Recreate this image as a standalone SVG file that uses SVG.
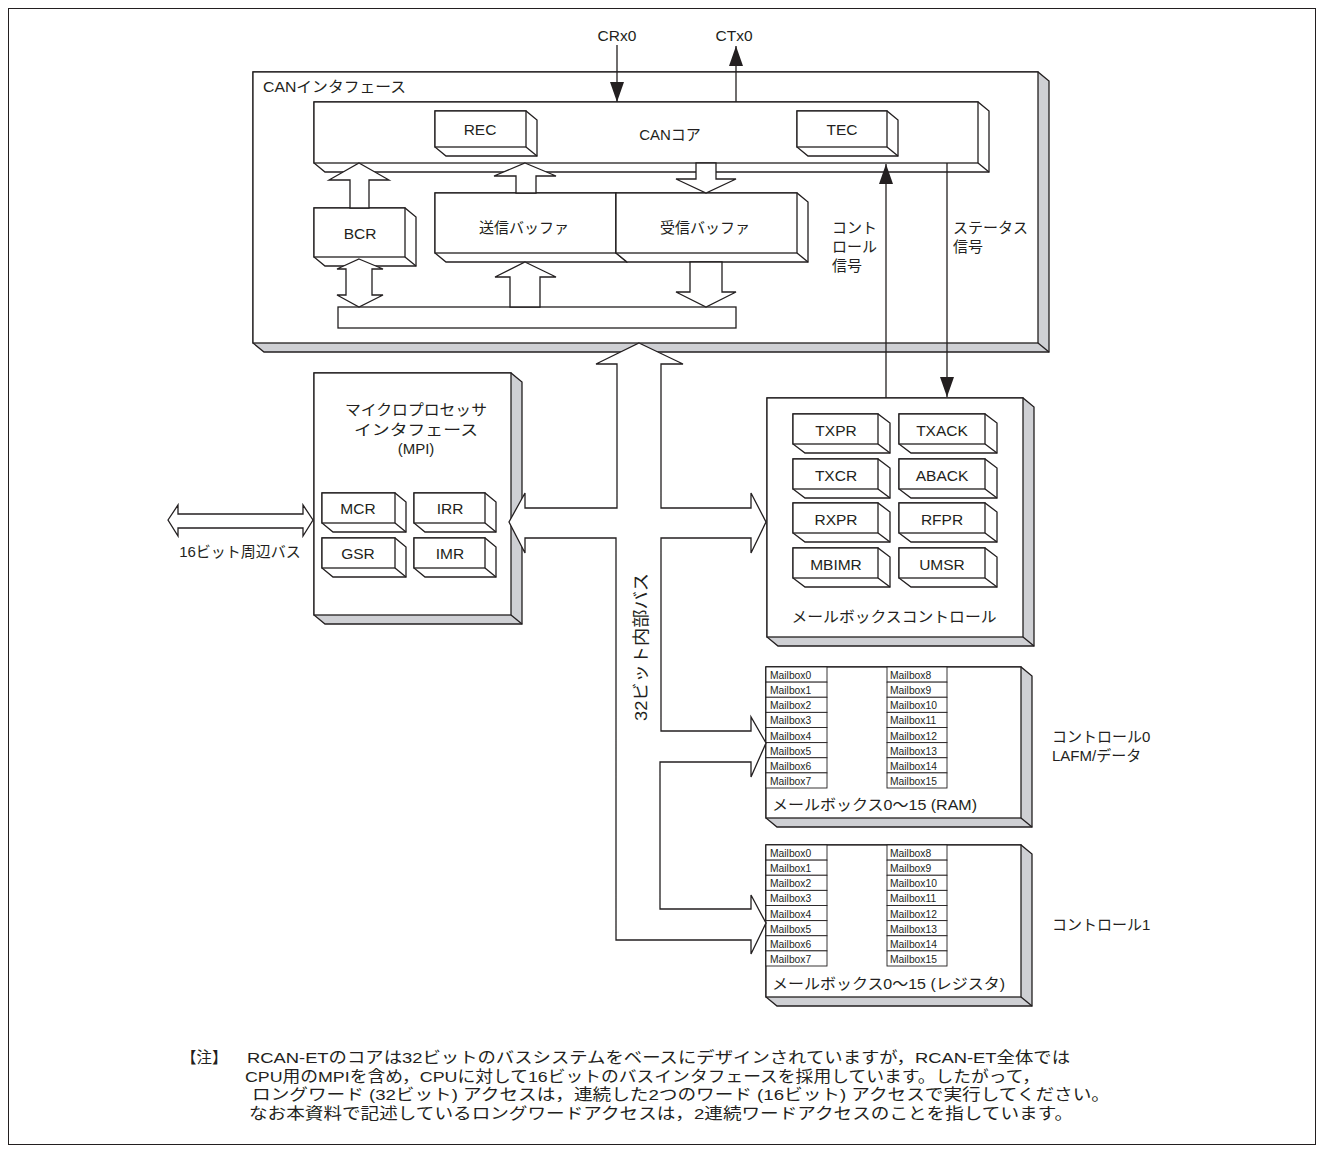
<svg xmlns="http://www.w3.org/2000/svg" xmlns:xlink="http://www.w3.org/1999/xlink" width="1324" height="1153" viewBox="0 0 1324 1153">
<style>
.o{stroke:#231f20;stroke-width:1.3;fill:none;stroke-linejoin:miter}
.w{fill:#fff;stroke:#231f20;stroke-width:1.3}
.g{fill:#cfd0d4;stroke:#231f20;stroke-width:1.3}
.c{fill:#fff;stroke:#231f20;stroke-width:0.9}
.ln{stroke:#231f20;stroke-width:1.3;fill:none}
text{font-family:"Liberation Sans","Noto Sans CJK JP",sans-serif;fill:#231f20;font-size:15px}
.m{text-anchor:middle}
.r{font-size:15.5px}
.mb{font-size:10.3px}
.n{font-size:15.5px}
</style>
<defs>
<marker id="ah" viewBox="0 0 20 14" refX="20" refY="7" markerWidth="20" markerHeight="14" markerUnits="userSpaceOnUse" orient="auto">
<path d="M0 0 L20 7 L0 14 Z" fill="#231f20"/>
</marker>
<g id="reg85">
<path class="w" d="M0 0 L85 0 L97 9 L97 39 L12 39 L0 30 Z"/>
<rect class="w" x="0" y="0" width="85" height="30"/>
<line class="ln" x1="85" y1="30" x2="97" y2="39"/>
</g>
<g id="reg86">
<path class="w" d="M0 0 L86 0 L98 9 L98 39 L12 39 L0 30 Z"/>
<rect class="w" x="0" y="0" width="86" height="30"/>
<line class="ln" x1="86" y1="30" x2="98" y2="39"/>
</g>
<g id="reg73">
<path class="w" d="M0 0 L73 0 L84 9 L84 39 L11 39 L0 30 Z"/>
<rect class="w" x="0" y="0" width="73" height="30"/>
<line class="ln" x1="73" y1="30" x2="84" y2="39"/>
</g>
<g id="reg71">
<path class="w" d="M0 0 L71 0 L82 9 L82 39 L11 39 L0 30 Z"/>
<rect class="w" x="0" y="0" width="71" height="30"/>
<line class="ln" x1="71" y1="30" x2="82" y2="39"/>
</g>
<g id="col1">
<rect class="c" x="0" y="0" width="61" height="15.125"/>
<rect class="c" x="0" y="15.125" width="61" height="15.125"/>
<rect class="c" x="0" y="30.25" width="61" height="15.125"/>
<rect class="c" x="0" y="45.375" width="61" height="15.125"/>
<rect class="c" x="0" y="60.5" width="61" height="15.125"/>
<rect class="c" x="0" y="75.625" width="61" height="15.125"/>
<rect class="c" x="0" y="90.75" width="61" height="15.125"/>
<rect class="c" x="0" y="105.875" width="61" height="15.125"/>
</g>
<g id="col2">
<rect class="c" x="0" y="0" width="60" height="15.125"/>
<rect class="c" x="0" y="15.125" width="60" height="15.125"/>
<rect class="c" x="0" y="30.25" width="60" height="15.125"/>
<rect class="c" x="0" y="45.375" width="60" height="15.125"/>
<rect class="c" x="0" y="60.5" width="60" height="15.125"/>
<rect class="c" x="0" y="75.625" width="60" height="15.125"/>
<rect class="c" x="0" y="90.75" width="60" height="15.125"/>
<rect class="c" x="0" y="105.875" width="60" height="15.125"/>
</g>
</defs>

<rect x="8.5" y="8.5" width="1307" height="1136" fill="#fff" stroke="#231f20" stroke-width="1"/>

<g id="can-interface">
<path class="g" d="M253 72 L1038 72 L1049 81 L1049 352 L264 352 L253 343 Z"/>
<rect class="w" x="253" y="72" width="785" height="271"/>
<line class="ln" x1="1038" y1="343" x2="1049" y2="352"/>
<text x="263" y="92" textLength="143" lengthAdjust="spacingAndGlyphs">CANインタフェース</text>
</g>

<g id="can-core">
<path class="w" d="M314 102 L978 102 L989 111 L989 172 L325 172 L314 163 Z"/>
<rect class="w" x="314" y="102" width="664" height="61"/>
<line class="ln" x1="978" y1="163" x2="989" y2="172"/>
<text class="m" x="670" y="140">CANコア</text>
</g>

<g id="rec">
<path class="w" d="M435 111 L526 111 L537 120 L537 156 L446 156 L435 147 Z"/>
<rect class="w" x="435" y="111" width="91" height="36"/>
<line class="ln" x1="526" y1="147" x2="537" y2="156"/>
<text class="m r" x="480" y="135">REC</text>
</g>

<g id="tec">
<path class="w" d="M797 111 L887 111 L898 120 L898 156 L808 156 L797 147 Z"/>
<rect class="w" x="797" y="111" width="90" height="36"/>
<line class="ln" x1="887" y1="147" x2="898" y2="156"/>
<text class="m r" x="842" y="135">TEC</text>
</g>

<g id="bcr">
<path class="w" d="M314 208 L405 208 L416 217 L416 266 L325 266 L314 257 Z"/>
<rect class="w" x="314" y="208" width="91" height="49"/>
<line class="ln" x1="405" y1="257" x2="416" y2="266"/>
<text class="m r" x="360" y="239">BCR</text>
</g>

<g id="tx-buffer">
<path class="w" d="M435 193 L616 193 L627 202 L627 262 L446 262 L435 253 Z"/>
<rect class="w" x="435" y="193" width="181" height="60"/>
<line class="ln" x1="616" y1="253" x2="627" y2="262"/>
<text class="m" x="524" y="233">送信バッファ</text>
</g>

<g id="rx-buffer">
<path class="w" d="M616 193 L797 193 L808 202 L808 262 L627 262 L616 253 Z"/>
<rect class="w" x="616" y="193" width="181" height="60"/>
<line class="ln" x1="797" y1="253" x2="808" y2="262"/>
<text class="m" x="705" y="233">受信バッファ</text>
</g>

<g id="internal-bar">
<rect class="w" x="338" y="307" width="398" height="21"/>
</g>

<g id="mpi">
<path class="g" d="M314 373 L511 373 L522 382 L522 624 L325 624 L314 615 Z"/>
<rect class="w" x="314" y="373" width="197" height="242"/>
<line class="ln" x1="511" y1="615" x2="522" y2="624"/>
<text class="m" x="416" y="415" textLength="142" lengthAdjust="spacingAndGlyphs">マイクロプロセッサ</text>
<text class="m" x="416" y="435" textLength="124" lengthAdjust="spacingAndGlyphs">インタフェース</text>
<text class="m" x="416" y="454">(MPI)</text>
</g>
<g id="mcr"><use xlink:href="#reg73" x="322" y="493"/><text class="m r" x="358" y="514">MCR</text></g>
<g id="irr"><use xlink:href="#reg71" x="414" y="493"/><text class="m r" x="450" y="514">IRR</text></g>
<g id="gsr"><use xlink:href="#reg73" x="322" y="538"/><text class="m r" x="358" y="559">GSR</text></g>
<g id="imr"><use xlink:href="#reg71" x="414" y="538"/><text class="m r" x="450" y="559">IMR</text></g>

<g id="mailbox-control">
<path class="g" d="M767 398 L1023 398 L1034 407 L1034 646 L778 646 L767 637 Z"/>
<rect class="w" x="767" y="398" width="256" height="239"/>
<line class="ln" x1="1023" y1="637" x2="1034" y2="646"/>
<text class="m" x="894" y="622" textLength="205" lengthAdjust="spacingAndGlyphs">メールボックスコントロール</text>
</g>
<g id="txpr"><use xlink:href="#reg85" x="793" y="414"/><text class="m r" x="836" y="436">TXPR</text></g>
<g id="txack"><use xlink:href="#reg86" x="899" y="414"/><text class="m r" x="942" y="436">TXACK</text></g>
<g id="txcr"><use xlink:href="#reg85" x="793" y="459"/><text class="m r" x="836" y="481">TXCR</text></g>
<g id="aback"><use xlink:href="#reg86" x="899" y="459"/><text class="m r" x="942" y="481">ABACK</text></g>
<g id="rxpr"><use xlink:href="#reg85" x="793" y="503"/><text class="m r" x="836" y="525">RXPR</text></g>
<g id="rfpr"><use xlink:href="#reg86" x="899" y="503"/><text class="m r" x="942" y="525">RFPR</text></g>
<g id="mbimr"><use xlink:href="#reg85" x="793" y="548"/><text class="m r" x="836" y="570">MBIMR</text></g>
<g id="umsr"><use xlink:href="#reg86" x="899" y="548"/><text class="m r" x="942" y="570">UMSR</text></g>

<g id="mailbox-ram">
<path class="g" d="M766 667 L1021 667 L1032 676 L1032 827 L777 827 L766 818 Z"/>
<rect class="w" x="766" y="667" width="255" height="151"/>
<line class="ln" x1="1021" y1="818" x2="1032" y2="827"/>
<use xlink:href="#col1" x="766" y="667"/>
<use xlink:href="#col2" x="887" y="667"/>
<text class="mb" x="770" y="679">Mailbox0</text>
<text class="mb" x="770" y="694.1">Mailbox1</text>
<text class="mb" x="770" y="709.3">Mailbox2</text>
<text class="mb" x="770" y="724.4">Mailbox3</text>
<text class="mb" x="770" y="739.5">Mailbox4</text>
<text class="mb" x="770" y="754.6">Mailbox5</text>
<text class="mb" x="770" y="769.8">Mailbox6</text>
<text class="mb" x="770" y="784.9">Mailbox7</text>
<text class="mb" x="890" y="679">Mailbox8</text>
<text class="mb" x="890" y="694.1">Mailbox9</text>
<text class="mb" x="890" y="709.3">Mailbox10</text>
<text class="mb" x="890" y="724.4">Mailbox11</text>
<text class="mb" x="890" y="739.5">Mailbox12</text>
<text class="mb" x="890" y="754.6">Mailbox13</text>
<text class="mb" x="890" y="769.8">Mailbox14</text>
<text class="mb" x="890" y="784.9">Mailbox15</text>
<text x="772" y="810" textLength="205" lengthAdjust="spacingAndGlyphs">メールボックス0～15 (RAM)</text>
</g>

<g id="mailbox-reg">
<path class="g" d="M766 845 L1021 845 L1032 854 L1032 1006 L777 1006 L766 997 Z"/>
<rect class="w" x="766" y="845" width="255" height="152"/>
<line class="ln" x1="1021" y1="997" x2="1032" y2="1006"/>
<use xlink:href="#col1" x="766" y="845"/>
<use xlink:href="#col2" x="887" y="845"/>
<text class="mb" x="770" y="857">Mailbox0</text>
<text class="mb" x="770" y="872.1">Mailbox1</text>
<text class="mb" x="770" y="887.3">Mailbox2</text>
<text class="mb" x="770" y="902.4">Mailbox3</text>
<text class="mb" x="770" y="917.5">Mailbox4</text>
<text class="mb" x="770" y="932.6">Mailbox5</text>
<text class="mb" x="770" y="947.8">Mailbox6</text>
<text class="mb" x="770" y="962.9">Mailbox7</text>
<text class="mb" x="890" y="857">Mailbox8</text>
<text class="mb" x="890" y="872.1">Mailbox9</text>
<text class="mb" x="890" y="887.3">Mailbox10</text>
<text class="mb" x="890" y="902.4">Mailbox11</text>
<text class="mb" x="890" y="917.5">Mailbox12</text>
<text class="mb" x="890" y="932.6">Mailbox13</text>
<text class="mb" x="890" y="947.8">Mailbox14</text>
<text class="mb" x="890" y="962.9">Mailbox15</text>
<text x="772" y="989" textLength="233" lengthAdjust="spacingAndGlyphs">メールボックス0～15 (レジスタ)</text>
</g>

<g id="connectors">
<path class="w" d="M359 163 L389 180 L369 180 L369 208 L350 208 L350 180 L329 180 Z"/>
<path class="w" d="M525 163 L556 176 L536 176 L536 193 L516 193 L516 176 L494 176 Z"/>
<path class="w" d="M696 163 L716 163 L716 179 L736 179 L706 193 L676 179 L696 179 Z"/>
<path class="w" d="M359 259 L383 269 L372 269 L372 295 L383 295 L359 307 L337 295 L346 295 L346 269 L337 269 Z"/>
<path class="w" d="M525 262 L556 277 L540 277 L540 307 L510 307 L510 277 L495 277 Z"/>
<path class="w" d="M690 262 L722 262 L722 292 L736 292 L706 307 L676 292 L690 292 Z"/>
<path class="w" d="M639 343 L683 364 L661 364 L661 508 L751 508 L751 493 L766 522 L751 553 L751 538 L661 538 L661 731 L751 731 L751 717 L766 743 L751 777 L751 762 L660 762 L660 909 L751 909 L751 895 L766 923 L751 954 L751 940 L616 940 L616 538 L525 538 L525 553 L509 522 L525 493 L525 508 L617 508 L617 364 L596 364 Z"/>
<path class="w" d="M168 520 L178 505 L178 514 L303 514 L303 505 L313 520 L303 536 L303 528 L178 528 L178 536 Z"/>
<line class="ln" x1="617" y1="45" x2="617" y2="102" marker-end="url(#ah)"/>
<line class="ln" x1="736" y1="102" x2="736" y2="46" marker-end="url(#ah)"/>
<line class="ln" x1="886" y1="398" x2="886" y2="164" marker-end="url(#ah)"/>
<line class="ln" x1="947" y1="163" x2="947" y2="397" marker-end="url(#ah)"/>
</g>

<g id="labels">
<text class="m r" x="617" y="41">CRx0</text>
<text class="m r" x="734" y="41">CTx0</text>
<text x="832" y="233">コント</text>
<text x="832" y="252">ロール</text>
<text x="832" y="271">信号</text>
<text x="953" y="233">ステータス</text>
<text x="953" y="252">信号</text>
<text class="m" x="240" y="557">16ビット周辺バス</text>
<text class="m" transform="translate(647,647) rotate(-90)" style="font-size:17px" textLength="148" lengthAdjust="spacingAndGlyphs">32ビット内部バス</text>
<text x="1052" y="742">コントロール0</text>
<text x="1052" y="761">LAFM/データ</text>
<text x="1052" y="930">コントロール1</text>
</g>

<g id="note">
<text class="n" x="181" y="1063">【注】</text>
<text class="n" x="247" y="1063" textLength="823" lengthAdjust="spacingAndGlyphs">RCAN-ETのコアは32ビットのバスシステムをベースにデザインされていますが，RCAN-ET全体では</text>
<text class="n" x="245" y="1081.5" textLength="795" lengthAdjust="spacingAndGlyphs">CPU用のMPIを含め，CPUに対して16ビットのバスインタフェースを採用しています。したがって，</text>
<text class="n" x="252" y="1100" textLength="858" lengthAdjust="spacingAndGlyphs">ロングワード (32ビット) アクセスは，連続した2つのワード (16ビット) アクセスで実行してください。</text>
<text class="n" x="249" y="1118.5" textLength="824" lengthAdjust="spacingAndGlyphs">なお本資料で記述しているロングワードアクセスは，2連続ワードアクセスのことを指しています。</text>
</g>
</svg>
